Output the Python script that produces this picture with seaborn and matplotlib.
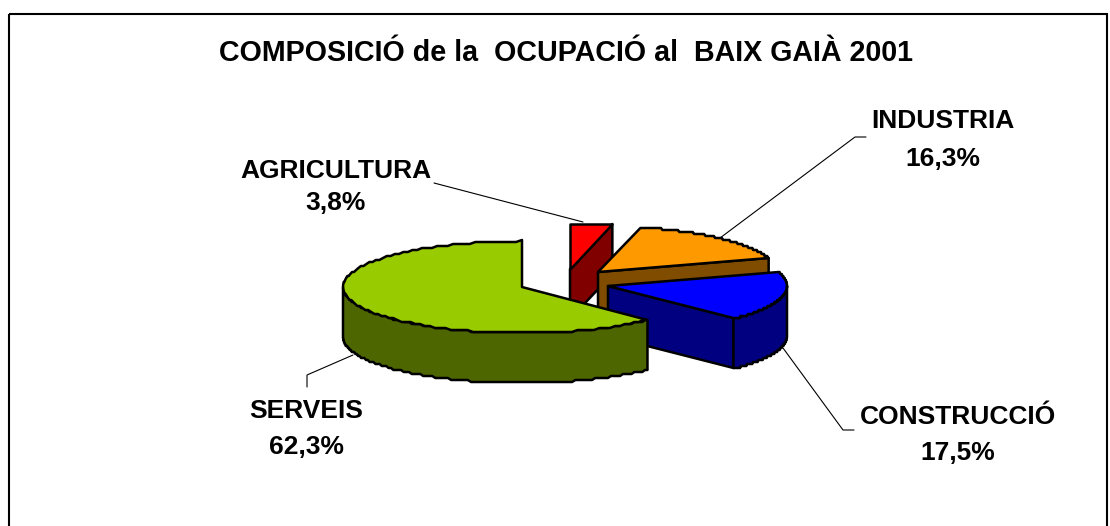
"""
Composicio de la ocupacio al Baix Gaia 2001: exploded 3D style pie.
"""
import numpy as np
import pandas as pd
import matplotlib
matplotlib.use("Agg")
import matplotlib.pyplot as plt
import seaborn as sns
from matplotlib.patches import Polygon, Rectangle

# ==========================================
# 1. Data
# ==========================================
TITLE = "COMPOSICIÓ de la  OCUPACIÓ al  BAIX GAIÀ 2001"
SECTORS = ["AGRICULTURA", "INDUSTRIA", "CONSTRUCCIÓ", "SERVEIS"]
SHARES = [3.8, 16.3, 17.5, 62.3]
TOP_COLORS = ["#FF0000", "#FF9900", "#0000FF", "#99CC00"]
SIDE_COLORS = ["#800000", "#804C00", "#000080", "#4D6600"]

# ==========================================
# 2. Layout (pixels, y down)
# ==========================================
W, H = 1110, 526
RX, RY, DEPTH = 179, 46, 50
STEP = 2.0  # the rim of the original is visibly stepped
APEX = {"AGRICULTURA": (570, 269), "INDUSTRIA": (598, 272),
        "CONSTRUCCIÓ": (608, 286), "SERVEIS": (522, 287)}
# x, y of name, y of percentage
LABEL_POS = {"AGRICULTURA": (336, 168, 201), "INDUSTRIA": (943, 118, 156),
             "CONSTRUCCIÓ": (958, 415, 450), "SERVEIS": (306, 409, 444)}
LEADERS = {"AGRICULTURA": [(434, 183), (583, 222)],
           "INDUSTRIA": [(866, 137), (855, 137), (720, 238)],
           "CONSTRUCCIÓ": [(783, 348), (843, 430), (854, 430)],
           "SERVEIS": [(353, 355), (307, 375), (307, 387)]}

sns.set_theme(style="white")
plt.rcParams['font.family'] = ['Liberation Sans', 'DejaVu Sans']

df = pd.DataFrame({"sector": SECTORS, "share": SHARES,
                   "top": TOP_COLORS, "side": SIDE_COLORS})
# slices run clockwise from twelve o'clock
df["end"] = 90 - 360 * df["share"].cumsum() / df["share"].sum()
df["start"] = df["end"] + 360 * df["share"] / df["share"].sum()


def rim(apex, a0, a1, drop=0):
    t = np.radians(np.linspace(a0, a1, 120))
    x = apex[0] + RX * np.cos(t)
    y = apex[1] - RY * np.sin(t)
    return np.column_stack([x, np.round(y / STEP) * STEP + drop])


def draw_slice(ax, row):
    apex = APEX[row.sector]
    style = dict(edgecolor="black", linewidth=1.8, joinstyle="round")
    arc = rim(apex, row.start, row.end)
    p1 = arc[-1]
    # cut face looking towards the viewer, green one is hidden
    if row.sector != "SERVEIS":
        ax.add_patch(Polygon([apex, p1, (p1[0], p1[1] + DEPTH), (apex[0], apex[1] + DEPTH)],
                             facecolor=row.side, **style))
    # outer wall, only under the front half of the ellipse
    lo, hi = min(row.start, row.end), max(row.start, row.end)
    for w0, w1 in [(180, 360), (-180, 0)]:
        f0, f1 = max(lo, w0), min(hi, w1)
        if f1 > f0:
            wall = np.vstack([rim(apex, f0, f1), rim(apex, f1, f0, DEPTH)])
            ax.add_patch(Polygon(wall, facecolor=row.side, **style))
    ax.add_patch(Polygon(np.vstack([[apex], arc]), facecolor=row.top, **style))


# ==========================================
# 3. Figure
# ==========================================
fig = plt.figure(figsize=(W / 100, H / 100), dpi=100)
ax = fig.add_axes([0, 0, 1, 1])
ax.set_xlim(0, W)
ax.set_ylim(H, 0)
ax.axis("off")
sns.despine(ax=ax, left=True, bottom=True)

ax.add_patch(Rectangle((9, 14), 1098, 600, fill=False, edgecolor="black", linewidth=1.5))

for row in df.itertuples():
    draw_slice(ax, row)

for pts in LEADERS.values():
    xs, ys = zip(*pts)
    ax.plot(xs, ys, color="black", linewidth=0.8, zorder=0)

ax.text(566, 53, TITLE, ha="center", va="center", fontsize=20.6, fontweight="bold", color="black")
for sector, share in zip(SECTORS, SHARES):
    x, y_name, y_pct = LABEL_POS[sector]
    ax.text(x, y_name, sector, ha="center", va="center_baseline", fontsize=19, fontweight="bold", color="black")
    ax.text(x, y_pct, f"{share:.1f}%".replace(".", ","), ha="center", va="center_baseline",
            fontsize=19, fontweight="bold", color="black")

plt.savefig("out.png", dpi=100)
